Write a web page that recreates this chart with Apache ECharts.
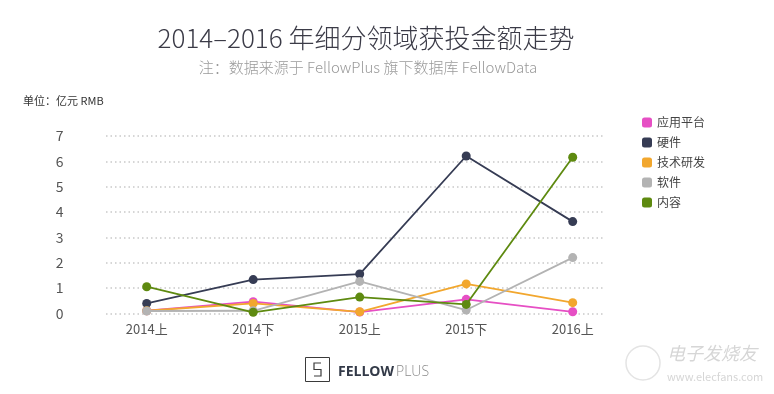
<!DOCTYPE html>
<html>
<head>
<meta charset="utf-8">
<script src="https://cdn.jsdelivr.net/npm/echarts@6/dist/echarts.min.js"></script>
<style>html,body{margin:0;padding:0;background:#fff;}#c{width:774px;height:394px;}</style>
</head>
<body>
<div id="c"></div>
<script>
var categories = ['2014上', '2014下', '2015上', '2015下', '2016上'];
var seriesNames = ['应用平台', '硬件', '技术研发', '软件', '内容'];
var appPlatform = [0.1, 0.46, 0.05, 0.55, 0.06];
var hardware = [0.39, 1.33, 1.55, 6.21, 3.62];
var techRD = [0.1, 0.39, 0.06, 1.16, 0.42];
var software = [0.09, 0.1, 1.26, 0.13, 2.2];
var content = [1.05, 0.04, 0.64, 0.35, 6.16];
var yTicks = [0, 1, 2, 3, 4, 5, 6, 7];

var colors = ['#e64fc4', '#363c54', '#f2a72e', '#b3b3b3', '#5e8a10'];
var values = [appPlatform, hardware, techRD, software, content];
var FONT = '"Noto Sans CJK SC", "Noto Sans", sans-serif';

var chart = echarts.init(document.getElementById('c'), null, {renderer: 'canvas'});

var series = seriesNames.map(function (n, i) {
  return {
    name: n, type: 'line', xAxisIndex: 0, yAxisIndex: 0,
    data: values[i], symbol: 'circle', symbolSize: 9,
    lineStyle: {color: colors[i], width: 1.8},
    itemStyle: {color: colors[i]},
    z: 2 + i
  };
});

var option = {
  animation: false,
  textStyle: {fontFamily: FONT},
  grid: [
    {left: 93.45, top: 136, width: 532.5, height: 177.3},
    {left: 106, top: 136, width: 499, height: 177.3}
  ],
  xAxis: [
    {type: 'category', gridIndex: 0, data: categories, boundaryGap: true,
     axisLine: {show: false}, axisTick: {show: false},
     axisLabel: {color: '#555', fontSize: 13, margin: 9, fontFamily: FONT}},
    {type: 'category', gridIndex: 1, data: categories, show: false}
  ],
  yAxis: [
    {type: 'value', gridIndex: 0, min: yTicks[0], max: yTicks[yTicks.length - 1], interval: 1,
     axisLine: {show: false}, axisTick: {show: false}, splitLine: {show: false},
     axisLabel: {color: '#555', fontSize: 14, margin: 30, fontFamily: FONT}},
    {type: 'value', gridIndex: 1, min: yTicks[0], max: yTicks[yTicks.length - 1], interval: 1,
     axisLine: {show: false}, axisTick: {show: false}, axisLabel: {show: false},
     splitLine: {show: true, lineStyle: {color: '#d6d6d6', width: 2, type: [1.5, 3]}}}
  ],
  legend: {
    orient: 'vertical', left: 637, top: 111.5,
    icon: 'roundRect', itemWidth: 10, itemHeight: 10, itemGap: 8,
    data: seriesNames,
    textStyle: {color: '#444', fontSize: 12, padding: [0, 0, 0, 0], fontFamily: FONT}
  },
  series: series,
  graphic: [
    {type: 'text', x: 366, y: 38, style: {text: '2014–2016 年细分领域获投金额走势', fill: '#3b3b47', font: '300 26px ' + FONT, textAlign: 'center', textVerticalAlign: 'middle'}},
    {type: 'text', x: 368, y: 67, style: {text: '注：数据来源于 FellowPlus 旗下数据库 FellowData', fill: '#9a9a9a', font: '300 15px ' + FONT, textAlign: 'center', textVerticalAlign: 'middle'}},
    {type: 'text', x: 23, y: 101, style: {text: '单位：亿元 RMB', fill: '#333', font: '11px ' + FONT, textAlign: 'left', textVerticalAlign: 'middle'}},
    {type: 'rect', shape: {x: 305.5, y: 357.5, width: 24, height: 24}, style: {fill: 'none', stroke: '#3a3a3a', lineWidth: 1}},
    {type: 'polyline', shape: {points: [[321, 363], [314, 363], [314, 369.5], [321, 369.5], [321, 376], [314, 376]]}, style: {fill: 'none', stroke: '#3a3a3a', lineWidth: 1.2}},
    {type: 'text', x: 338, y: 372, style: {text: 'FELLOW', fill: '#333a48', font: 'bold 14px "Open Sans", sans-serif', textAlign: 'left', textVerticalAlign: 'middle'}},
    {type: 'text', x: 396, y: 372, style: {text: 'PLUS', fill: '#8a8a8a', font: '300 14px "Open Sans", sans-serif', textAlign: 'left', textVerticalAlign: 'middle'}},
    {type: 'circle', shape: {cx: 643, cy: 363, r: 17}, style: {fill: 'none', stroke: '#e4e4e4', lineWidth: 1.5}},
    {type: 'text', x: 667, y: 353, style: {text: '电子发烧友', fill: '#d6d6d6', font: 'italic 18px ' + FONT, textAlign: 'left', textVerticalAlign: 'middle'}},
    {type: 'text', x: 667, y: 377, style: {text: 'www.elecfans.com', fill: '#d6d6d6', font: '11px ' + FONT, textAlign: 'left', textVerticalAlign: 'middle'}}
  ]
};
chart.setOption(option);
</script>
</body>
</html>
